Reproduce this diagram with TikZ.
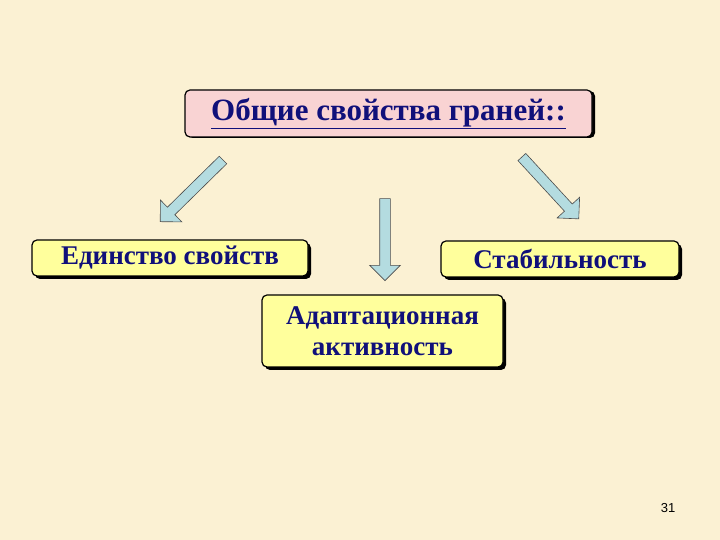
\documentclass[tikz,border=0pt]{standalone}
\usepackage{fontspec}
\setmainfont{Liberation Serif}
\newfontfamily\pgfont{Liberation Sans}
\usetikzlibrary{shapes.arrows}
\definecolor{bg}{HTML}{FBF1D3}
\definecolor{txt}{HTML}{10107A}
\definecolor{pinkbox}{HTML}{F9D3D3}
\definecolor{yelbox}{HTML}{FFFF9C}
\definecolor{arr}{HTML}{B4DCE0}
\begin{document}
\begin{tikzpicture}[x=1pt,y=1pt,
  box/.style={draw=black,line width=1.2pt,rounded corners=5pt,text=txt,font=\bfseries\fontsize{27}{31}\selectfont,align=center,inner sep=0pt},
  shad/.style={fill=black,rounded corners=5pt},
  barrow/.style={single arrow,draw=black!70,line width=0.6pt,fill=arr,minimum width=30pt,single arrow head extend=10pt,single arrow head indent=0pt,inner sep=5pt,minimum height=#1,anchor=center}]
\fill[bg] (0,0) rectangle (720,540);
\useasboundingbox (0,0) rectangle (720,540);
% shadows
\fill[shad] (188,402) rectangle (595,449);
\fill[shad] (35,261) rectangle (311,297);
\fill[shad] (444,260) rectangle (682,296);
\fill[shad] (265,170) rectangle (506,242);
\node[box,fill=pinkbox,minimum width=407pt,minimum height=47pt,font=\bfseries\fontsize{31}{35}\selectfont] (top) at (388.5,426.5) {\underline{Общие свойства граней::}};
\node[box,fill=yelbox,minimum width=276pt,minimum height=36pt] (left) at (170,282) {Единство свойств};
\node[box,fill=yelbox,minimum width=238pt,minimum height=36pt] (right) at (560,281) {Стабильность};
\node[box,fill=yelbox,minimum width=241pt,minimum height=72pt] (mid) at (382.5,209) {Адаптационная\\активность};
\node[barrow=88pt,rotate=224.5] (a1) at (193.5,351) {};
\node[barrow=82pt,rotate=-90] (a2) at (385,303) {};
\node[barrow=84pt,rotate=-47.4] (a3) at (548.5,354) {};
\node[font=\pgfont\fontsize{13}{15}\selectfont] (pg) at (668,32) {31};
\end{tikzpicture}
\end{document}
